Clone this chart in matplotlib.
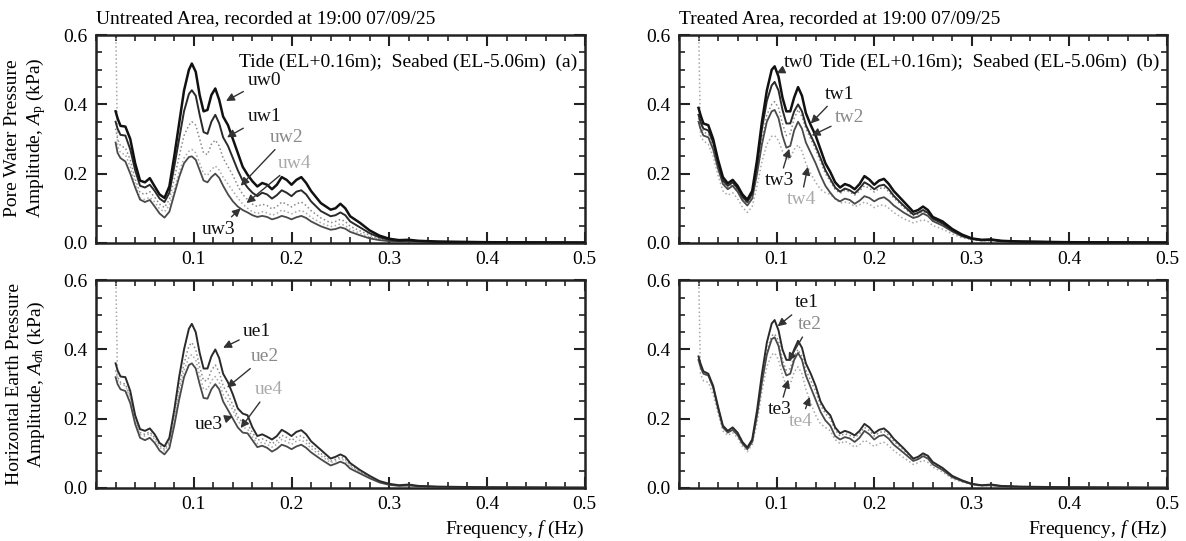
import matplotlib
matplotlib.use("Agg")
import matplotlib.pyplot as plt
from matplotlib.ticker import FixedLocator, MultipleLocator, FormatStrFormatter

plt.rcParams['font.family'] = 'Liberation Serif'
plt.rcParams['mathtext.fontset'] = 'custom'
plt.rcParams['mathtext.rm'] = 'Liberation Serif'
plt.rcParams['mathtext.it'] = 'Liberation Serif:italic'
plt.rcParams['font.size'] = 14

# frequency grid (Hz) shared by all spectra
freq = [0.020, 0.022, 0.025, 0.030, 0.035, 0.040, 0.045, 0.050, 0.055, 0.060,
        0.065, 0.070, 0.075, 0.080, 0.085, 0.090, 0.095, 0.098, 0.102, 0.106,
        0.110, 0.114, 0.118, 0.122, 0.126, 0.130, 0.135, 0.140, 0.145, 0.150,
        0.155, 0.160, 0.165, 0.170, 0.175, 0.180, 0.185, 0.190, 0.195, 0.200,
        0.205, 0.210, 0.215, 0.220, 0.230, 0.240, 0.245, 0.250, 0.255, 0.260,
        0.270, 0.280, 0.290, 0.300, 0.310, 0.320, 0.330, 0.350, 0.400, 0.500]

# (a) untreated, pore water pressure amplitude (kPa)
uw0 = [0.38, 0.36, 0.338, 0.336, 0.30, 0.23, 0.18, 0.175, 0.187, 0.163,
       0.14, 0.13, 0.163, 0.25, 0.345, 0.44, 0.50, 0.518, 0.494, 0.427,
       0.38, 0.384, 0.427, 0.446, 0.413, 0.365, 0.34, 0.30, 0.26, 0.22,
       0.197, 0.178, 0.163, 0.173, 0.168, 0.155, 0.168, 0.19, 0.182, 0.168,
       0.182, 0.19, 0.173, 0.15, 0.115, 0.096, 0.10, 0.113, 0.10, 0.077,
       0.058, 0.036, 0.021, 0.012, 0.008, 0.009, 0.006, 0.004, 0.002, 0.001]
uw1 = [0.35, 0.33, 0.312, 0.31, 0.27, 0.21, 0.165, 0.16, 0.168, 0.15,
       0.128, 0.118, 0.145, 0.22, 0.30, 0.38, 0.43, 0.441, 0.425, 0.37,
       0.32, 0.315, 0.35, 0.37, 0.345, 0.305, 0.28, 0.245, 0.21, 0.18,
       0.16, 0.145, 0.135, 0.145, 0.14, 0.128, 0.138, 0.152, 0.145, 0.135,
       0.148, 0.152, 0.14, 0.12, 0.092, 0.077, 0.08, 0.088, 0.08, 0.062,
       0.045, 0.028, 0.016, 0.009, 0.006, 0.007, 0.005, 0.003, 0.002, 0.001]
uw2 = [0.33, 0.30, 0.28, 0.275, 0.24, 0.185, 0.145, 0.14, 0.148, 0.132,
       0.112, 0.102, 0.125, 0.185, 0.25, 0.31, 0.34, 0.35, 0.34, 0.30,
       0.26, 0.255, 0.285, 0.297, 0.28, 0.245, 0.22, 0.195, 0.165, 0.14,
       0.125, 0.112, 0.105, 0.112, 0.108, 0.098, 0.105, 0.118, 0.112, 0.104,
       0.113, 0.118, 0.108, 0.093, 0.072, 0.058, 0.062, 0.068, 0.062, 0.048,
       0.035, 0.022, 0.012, 0.007, 0.005, 0.006, 0.004, 0.003, 0.002, 0.001]
uw3 = [0.29, 0.26, 0.245, 0.235, 0.20, 0.16, 0.125, 0.118, 0.124, 0.105,
       0.085, 0.073, 0.09, 0.14, 0.19, 0.23, 0.248, 0.25, 0.24, 0.21,
       0.18, 0.175, 0.19, 0.20, 0.188, 0.165, 0.14, 0.12, 0.105, 0.095,
       0.088, 0.08, 0.075, 0.078, 0.075, 0.068, 0.072, 0.078, 0.074, 0.068,
       0.074, 0.078, 0.072, 0.062, 0.048, 0.038, 0.04, 0.045, 0.041, 0.032,
       0.022, 0.013, 0.008, 0.005, 0.004, 0.004, 0.003, 0.002, 0.001, 0.001]
uw4 = [0.65, 0.28, 0.26, 0.255, 0.22, 0.17, 0.13, 0.125, 0.132, 0.118,
       0.098, 0.09, 0.108, 0.155, 0.205, 0.245, 0.265, 0.27, 0.26, 0.23,
       0.20, 0.195, 0.212, 0.222, 0.21, 0.19, 0.17, 0.15, 0.13, 0.112,
       0.10, 0.09, 0.085, 0.09, 0.087, 0.08, 0.085, 0.095, 0.09, 0.084,
       0.09, 0.094, 0.086, 0.074, 0.058, 0.047, 0.05, 0.055, 0.05, 0.039,
       0.028, 0.017, 0.01, 0.006, 0.004, 0.005, 0.003, 0.002, 0.001, 0.001]

# (b) treated, pore water pressure amplitude (kPa)
tw0 = [0.39, 0.37, 0.345, 0.34, 0.30, 0.24, 0.19, 0.172, 0.182, 0.165,
       0.14, 0.125, 0.15, 0.24, 0.35, 0.44, 0.50, 0.51, 0.48, 0.42,
       0.38, 0.38, 0.42, 0.45, 0.425, 0.375, 0.34, 0.31, 0.27, 0.23,
       0.205, 0.175, 0.16, 0.17, 0.165, 0.155, 0.17, 0.193, 0.183, 0.168,
       0.18, 0.185, 0.17, 0.15, 0.12, 0.09, 0.095, 0.105, 0.095, 0.075,
       0.062, 0.04, 0.024, 0.013, 0.009, 0.01, 0.006, 0.004, 0.002, 0.001]
tw1 = [0.37, 0.35, 0.33, 0.325, 0.29, 0.23, 0.18, 0.165, 0.175, 0.158,
       0.133, 0.118, 0.142, 0.225, 0.33, 0.41, 0.455, 0.465, 0.44, 0.385,
       0.345, 0.345, 0.38, 0.40, 0.38, 0.34, 0.31, 0.28, 0.245, 0.21,
       0.185, 0.16, 0.148, 0.157, 0.152, 0.143, 0.157, 0.175, 0.167, 0.155,
       0.165, 0.168, 0.155, 0.136, 0.108, 0.082, 0.087, 0.095, 0.087, 0.07,
       0.056, 0.036, 0.021, 0.012, 0.008, 0.009, 0.006, 0.004, 0.002, 0.001]
tw2 = [0.36, 0.34, 0.32, 0.315, 0.28, 0.225, 0.175, 0.16, 0.17, 0.153,
       0.128, 0.113, 0.135, 0.21, 0.30, 0.37, 0.40, 0.408, 0.39, 0.345,
       0.31, 0.315, 0.36, 0.385, 0.365, 0.33, 0.30, 0.27, 0.235, 0.2,
       0.178, 0.155, 0.143, 0.152, 0.147, 0.138, 0.15, 0.165, 0.158, 0.147,
       0.157, 0.16, 0.148, 0.13, 0.103, 0.078, 0.083, 0.09, 0.083, 0.067,
       0.053, 0.034, 0.02, 0.011, 0.008, 0.008, 0.006, 0.004, 0.002, 0.001]
tw3 = [0.35, 0.33, 0.31, 0.305, 0.27, 0.215, 0.17, 0.155, 0.165, 0.148,
       0.123, 0.108, 0.128, 0.2, 0.285, 0.35, 0.38, 0.384, 0.36, 0.31,
       0.275, 0.28, 0.325, 0.35, 0.33, 0.29, 0.26, 0.23, 0.195, 0.165,
       0.145, 0.128, 0.12, 0.128, 0.124, 0.113, 0.122, 0.135, 0.13, 0.12,
       0.128, 0.132, 0.122, 0.108, 0.088, 0.072, 0.076, 0.085, 0.078, 0.063,
       0.05, 0.033, 0.019, 0.011, 0.007, 0.008, 0.005, 0.003, 0.002, 0.001]
tw4 = [0.65, 0.31, 0.295, 0.285, 0.25, 0.195, 0.15, 0.138, 0.145, 0.128,
       0.103, 0.088, 0.105, 0.165, 0.235, 0.285, 0.308, 0.31, 0.295, 0.265,
       0.24, 0.245, 0.27, 0.283, 0.265, 0.23, 0.2, 0.175, 0.155, 0.145,
       0.14, 0.128, 0.115, 0.118, 0.115, 0.105, 0.11, 0.118, 0.112, 0.102,
       0.108, 0.11, 0.1, 0.088, 0.07, 0.058, 0.062, 0.067, 0.062, 0.05,
       0.04, 0.026, 0.015, 0.009, 0.006, 0.006, 0.004, 0.003, 0.002, 0.001]

# untreated, horizontal earth pressure amplitude (kPa)
ue1 = [0.36, 0.34, 0.322, 0.32, 0.28, 0.21, 0.17, 0.165, 0.172, 0.155,
       0.13, 0.12, 0.145, 0.225, 0.32, 0.40, 0.46, 0.474, 0.45, 0.39,
       0.345, 0.345, 0.38, 0.40, 0.375, 0.33, 0.305, 0.27, 0.23, 0.215,
       0.21, 0.175, 0.15, 0.155, 0.148, 0.14, 0.15, 0.168, 0.16, 0.15,
       0.162, 0.167, 0.155, 0.135, 0.11, 0.085, 0.09, 0.097, 0.09, 0.072,
       0.052, 0.035, 0.02, 0.012, 0.008, 0.01, 0.006, 0.004, 0.002, 0.001]
ue2 = [0.34, 0.32, 0.305, 0.30, 0.265, 0.2, 0.16, 0.155, 0.162, 0.146,
       0.123, 0.112, 0.135, 0.205, 0.29, 0.36, 0.41, 0.42, 0.40, 0.35,
       0.31, 0.31, 0.34, 0.355, 0.335, 0.295, 0.27, 0.24, 0.205, 0.19,
       0.185, 0.16, 0.138, 0.142, 0.136, 0.128, 0.137, 0.152, 0.146, 0.137,
       0.147, 0.151, 0.14, 0.123, 0.1, 0.078, 0.083, 0.09, 0.083, 0.066,
       0.048, 0.032, 0.018, 0.011, 0.007, 0.009, 0.005, 0.003, 0.002, 0.001]
ue3 = [0.32, 0.30, 0.285, 0.28, 0.245, 0.185, 0.145, 0.138, 0.145, 0.13,
       0.108, 0.097, 0.115, 0.18, 0.255, 0.32, 0.355, 0.36, 0.345, 0.3,
       0.26, 0.258, 0.285, 0.30, 0.285, 0.25, 0.225, 0.2, 0.175, 0.16,
       0.158, 0.138, 0.118, 0.122, 0.116, 0.105, 0.113, 0.125, 0.12, 0.112,
       0.12, 0.125, 0.116, 0.103, 0.083, 0.065, 0.07, 0.076, 0.07, 0.056,
       0.042, 0.028, 0.016, 0.009, 0.006, 0.007, 0.005, 0.003, 0.002, 0.001]
ue4 = [0.65, 0.31, 0.30, 0.295, 0.26, 0.195, 0.155, 0.15, 0.157, 0.141,
       0.118, 0.107, 0.128, 0.195, 0.275, 0.34, 0.378, 0.385, 0.37, 0.325,
       0.285, 0.285, 0.31, 0.322, 0.305, 0.27, 0.25, 0.225, 0.195, 0.175,
       0.17, 0.148, 0.128, 0.132, 0.126, 0.118, 0.126, 0.14, 0.134, 0.126,
       0.135, 0.139, 0.129, 0.114, 0.093, 0.073, 0.078, 0.085, 0.078, 0.062,
       0.045, 0.03, 0.017, 0.01, 0.007, 0.008, 0.005, 0.003, 0.002, 0.001]

# treated, horizontal earth pressure amplitude (kPa)
te1 = [0.38, 0.36, 0.337, 0.33, 0.295, 0.235, 0.18, 0.165, 0.175, 0.16,
       0.133, 0.117, 0.14, 0.225, 0.33, 0.42, 0.475, 0.485, 0.455, 0.40,
       0.37, 0.37, 0.40, 0.425, 0.405, 0.36, 0.33, 0.295, 0.25, 0.225,
       0.21, 0.175, 0.158, 0.165, 0.16, 0.152, 0.165, 0.185, 0.175, 0.158,
       0.168, 0.172, 0.16, 0.142, 0.115, 0.085, 0.09, 0.1, 0.093, 0.075,
       0.058, 0.035, 0.022, 0.012, 0.008, 0.01, 0.006, 0.004, 0.002, 0.001]
te2 = [0.37, 0.35, 0.33, 0.325, 0.29, 0.23, 0.178, 0.163, 0.172, 0.157,
       0.13, 0.115, 0.137, 0.215, 0.315, 0.395, 0.44, 0.445, 0.425, 0.37,
       0.34, 0.345, 0.38, 0.40, 0.38, 0.34, 0.31, 0.28, 0.24, 0.215,
       0.2, 0.168, 0.15, 0.157, 0.152, 0.145, 0.157, 0.175, 0.166, 0.15,
       0.16, 0.164, 0.152, 0.135, 0.11, 0.082, 0.087, 0.096, 0.089, 0.072,
       0.055, 0.033, 0.021, 0.011, 0.008, 0.009, 0.006, 0.004, 0.002, 0.001]
te3 = [0.37, 0.35, 0.33, 0.325, 0.29, 0.23, 0.175, 0.16, 0.168, 0.153,
       0.128, 0.112, 0.133, 0.21, 0.305, 0.385, 0.43, 0.435, 0.41, 0.355,
       0.325, 0.33, 0.37, 0.39, 0.37, 0.325, 0.29, 0.255, 0.22, 0.195,
       0.18, 0.15, 0.14, 0.147, 0.143, 0.133, 0.145, 0.165, 0.155, 0.14,
       0.15, 0.153, 0.142, 0.125, 0.102, 0.078, 0.083, 0.092, 0.085, 0.068,
       0.052, 0.031, 0.02, 0.011, 0.007, 0.008, 0.005, 0.003, 0.002, 0.001]
te4 = [0.65, 0.33, 0.31, 0.305, 0.27, 0.215, 0.165, 0.152, 0.16, 0.145,
       0.12, 0.105, 0.125, 0.19, 0.28, 0.35, 0.385, 0.39, 0.37, 0.325,
       0.295, 0.30, 0.335, 0.35, 0.33, 0.285, 0.245, 0.21, 0.185, 0.175,
       0.165, 0.14, 0.128, 0.135, 0.128, 0.118, 0.125, 0.138, 0.13, 0.12,
       0.128, 0.132, 0.122, 0.108, 0.088, 0.068, 0.073, 0.08, 0.074, 0.06,
       0.046, 0.027, 0.017, 0.009, 0.006, 0.007, 0.005, 0.003, 0.002, 0.001]

xtick_labels = [0.1, 0.2, 0.3, 0.4, 0.5]
ytick_labels = [0.0, 0.2, 0.4, 0.6]

# line style by gauge number
STYLE = {
    '0': dict(color='#111111', lw=1.8, ls='-', zorder=6),
    '1': dict(color='#2a2a2a', lw=1.4, ls='-', zorder=5),
    '2': dict(color='#8a8a8a', lw=1.1, ls=':', zorder=3),
    '3': dict(color='#4a4a4a', lw=1.3, ls='-', zorder=4),
    '4': dict(color='#a8a8a8', lw=1.1, ls=':', zorder=2),
}
TXT = {'0': '#111111', '1': '#111111', '2': '#8a8a8a', '3': '#111111', '4': '#aaaaaa'}

panels = [
    dict(rect=[0.081, 0.551, 0.412, 0.384],
         series=[('uw4', uw4), ('uw3', uw3), ('uw2', uw2), ('uw1', uw1), ('uw0', uw0)],
         notes=[('uw0', (0.172, 0.470), (0.133, 0.410)),
                ('uw1', (0.172, 0.365), (0.134, 0.305)),
                ('uw2', (0.195, 0.305), (0.148, 0.165)),
                ('uw4', (0.203, 0.230), (0.154, 0.115)),
                ('uw3', (0.125, 0.040), (0.148, 0.100))],
         title='Untreated Area, recorded at 19:00 07/09/25',
         tag='Tide (EL+0.16m);  Seabed (EL-5.06m)  (a)', xlabel=False),
    dict(rect=[0.5725, 0.551, 0.4115, 0.384],
         series=[('tw4', tw4), ('tw3', tw3), ('tw2', tw2), ('tw1', tw1), ('tw0', tw0)],
         notes=[('tw0', (0.122, 0.520), (0.100, 0.490)),
                ('tw1', (0.164, 0.430), (0.135, 0.345)),
                ('tw2', (0.175, 0.363), (0.136, 0.310)),
                ('tw3', (0.103, 0.180), (0.113, 0.272)),
                ('tw4', (0.125, 0.125), (0.132, 0.220))],
         title='Treated Area, recorded at 19:00 07/09/25',
         tag='Tide (EL+0.16m);  Seabed (EL-5.06m)  (b)', xlabel=False),
    dict(rect=[0.081, 0.098, 0.412, 0.384],
         series=[('ue4', ue4), ('ue3', ue3), ('ue2', ue2), ('ue1', ue1)],
         notes=[('ue1', (0.165, 0.453), (0.130, 0.405)),
                ('ue2', (0.173, 0.380), (0.134, 0.290)),
                ('ue4', (0.177, 0.284), (0.148, 0.173)),
                ('ue3', (0.115, 0.183), (0.140, 0.207))],
         title=None, tag=None, xlabel=True),
    dict(rect=[0.5725, 0.098, 0.4115, 0.384],
         series=[('te4', te4), ('te3', te3), ('te2', te2), ('te1', te1)],
         notes=[('te1', (0.131, 0.535), (0.101, 0.467)),
                ('te2', (0.134, 0.472), (0.112, 0.366)),
                ('te3', (0.103, 0.226), (0.112, 0.313)),
                ('te4', (0.125, 0.193), (0.134, 0.263))],
         title=None, tag=None, xlabel=True),
]

fig = plt.figure(figsize=(11.86, 5.41), dpi=100)

for p in panels:
    ax = fig.add_axes(p['rect'])
    for name, vals in p['series']:
        ax.plot(freq, vals, solid_joinstyle='round', dash_joinstyle='round', **STYLE[name[-1]])
    for name, txy, tip in p['notes']:
        c = TXT[name[-1]]
        ax.annotate(name, xy=tip, xytext=txy, ha='center', va='center',
                    color=c, fontsize=14, zorder=8,
                    arrowprops=dict(arrowstyle='-|>', color='#333333', lw=1.0,
                                    mutation_scale=12, shrinkA=1, shrinkB=0))
    ax.set_xlim(0, 0.5)
    ax.set_ylim(0, 0.6)
    ax.xaxis.set_major_locator(FixedLocator(xtick_labels))
    ax.xaxis.set_minor_locator(MultipleLocator(0.02))
    ax.yaxis.set_major_locator(FixedLocator(ytick_labels))
    ax.yaxis.set_minor_locator(MultipleLocator(0.05))
    ax.xaxis.set_major_formatter(FormatStrFormatter('%.1f'))
    ax.yaxis.set_major_formatter(FormatStrFormatter('%.1f'))
    ax.tick_params(which='both', direction='in', top=True, right=True,
                   labelsize=14, color='#222222')
    ax.tick_params(which='major', length=8, width=1.5, pad=6)
    ax.tick_params(which='minor', length=4.5, width=1.2)
    for s in ax.spines.values():
        s.set_linewidth(1.8)
        s.set_color('#222222')
    if p['title']:
        ax.text(0.0, 1.04, p['title'], transform=ax.transAxes,
                ha='left', va='bottom', fontsize=14)
    if p['tag']:
        ax.text(0.492, 0.522, p['tag'], ha='right', va='center', fontsize=14)
    if p['xlabel']:
        ax.set_xlabel('Frequency, $f$ (Hz)', loc='right', fontsize=14, labelpad=4)

fig.text(0.022, 0.745, 'Pore Water Pressure\nAmplitude, $A_{\\mathrm{p}}$ (kPa)',
         rotation=90, ha='center', va='center', multialignment='center', fontsize=14)
fig.text(0.022, 0.29, 'Horizontal Earth Pressure\nAmplitude, $A_{\\sigma\\mathrm{h}}$ (kPa)',
         rotation=90, ha='center', va='center', multialignment='center', fontsize=14)

fig.savefig('out.png', dpi=100)
